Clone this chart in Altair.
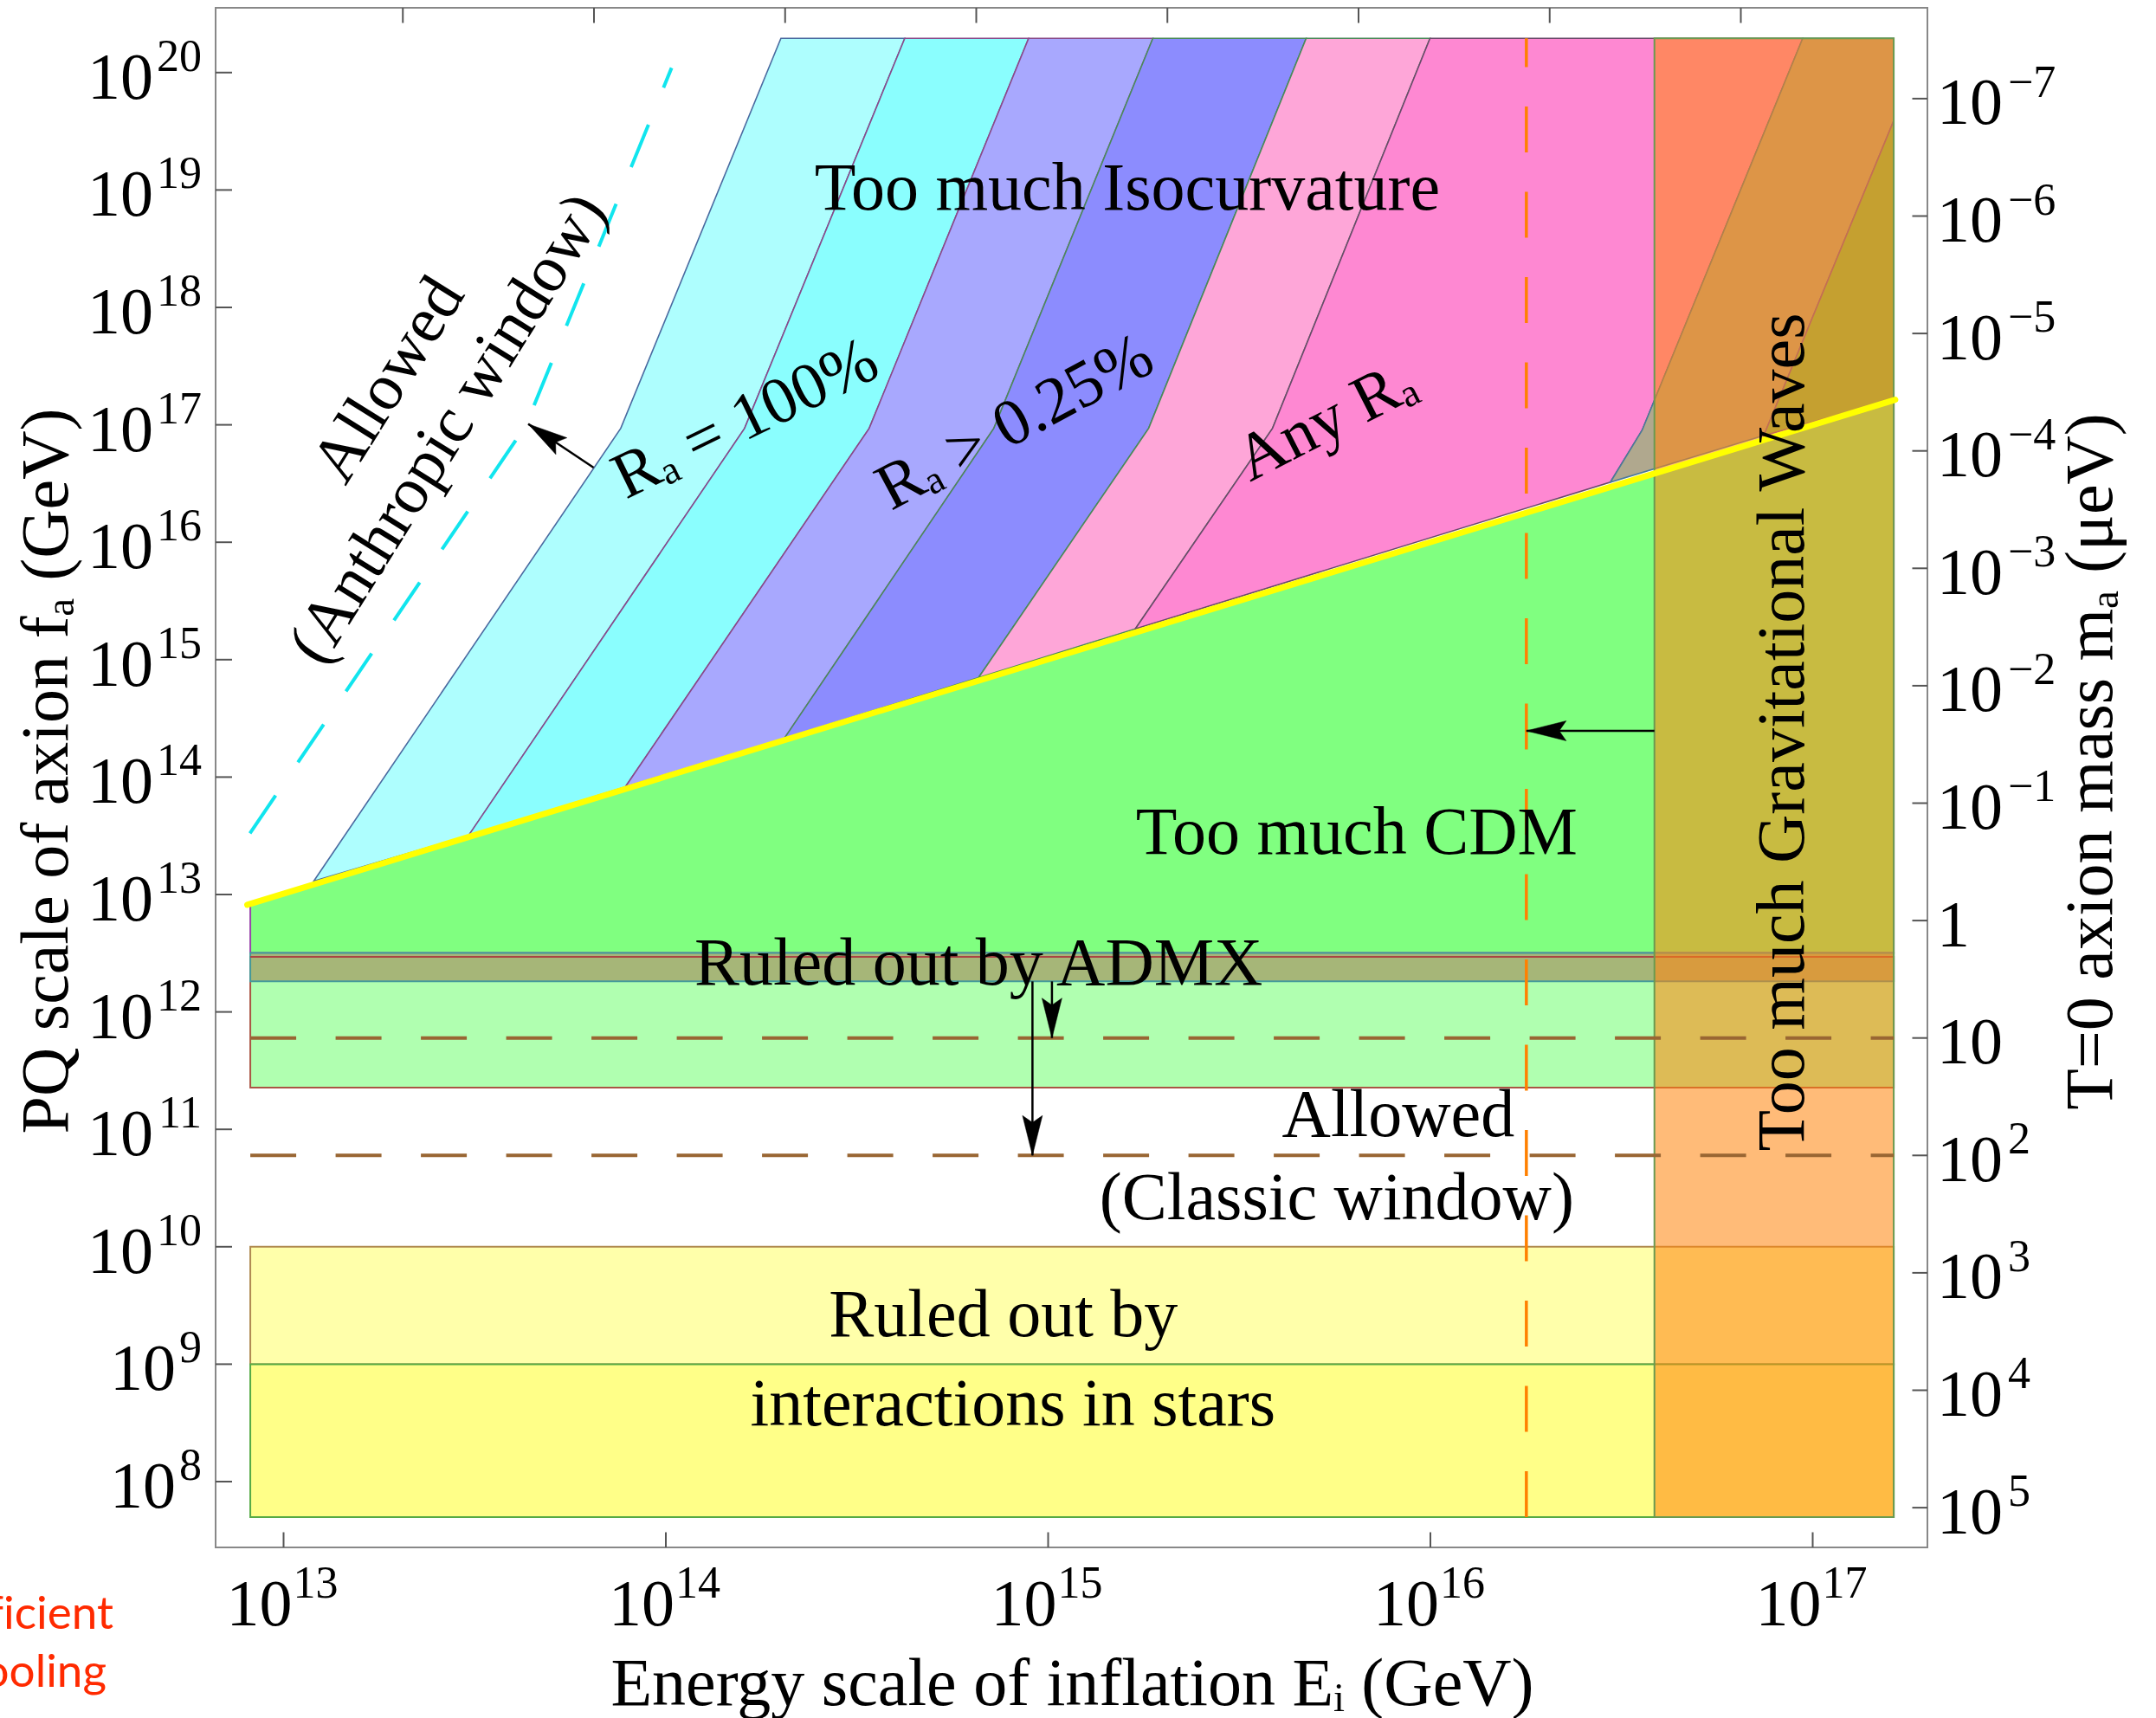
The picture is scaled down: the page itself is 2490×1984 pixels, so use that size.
import altair as alt
import pandas as pd

# ---------------- axis ranges (log10 units) ----------------
X_DOMAIN = [12.8222, 17.3001]      # log10 E_I / GeV
Y_DOMAIN = [7.4395, 20.5516]       # log10 f_a / GeV
W, H = 1977, 1778

# ---------------- ticks (value, base, exponent) ----------------
x_tick_vals = [13, 14, 15, 16, 17]
x_tick_exps = ['13', '14', '15', '16', '17']
top_tick_vals = [13.312, 13.812, 14.312, 14.812, 15.312, 15.812, 16.312, 16.812]
y_tick_vals = [8, 9, 10, 11, 12, 13, 14, 15, 16, 17, 18, 19, 20]
y_tick_exps = ['8', '9', '10', '11', '12', '13', '14', '15', '16', '17', '18', '19', '20']
m_tick_vals = [19.778, 18.778, 17.778, 16.778, 15.778, 14.778, 13.778, 12.778,
               11.778, 10.778, 9.778, 8.778, 7.778]
m_tick_base = ['10', '10', '10', '10', '10', '10', '10', '1', '10', '10', '10', '10', '10']
m_tick_exps = ['−7', '−6', '−5', '−4', '−3', '−2', '−1', '', '', '2', '3', '4', '5']

# ---------------- region extents ----------------
reg_left, reg_right, reg_top, reg_bottom = 12.913, 17.212, 20.292, 7.698

# CDM line (f_a ~ E_I)
cdm_x = [12.905, 17.216]
cdm_y = [12.912, 17.214]

# isocurvature boundaries: bottom (on CDM line), kink, top
bA_x = [13.079, 13.882, 14.301]; bA_y = [13.114, 16.970, 20.292]
bB_x = [13.484, 14.206, 14.625]; bB_y = [13.502, 16.970, 20.292]
bC_x = [13.894, 14.532, 14.949]; bC_y = [13.916, 16.970, 20.292]
bD_x = [14.310, 14.858, 15.274]; bD_y = [14.330, 16.970, 20.292]
bE_x = [14.818, 15.263, 15.675]; bE_y = [14.847, 16.970, 20.292]
bF_x = [15.228, 15.587, 15.999]; bF_y = [15.262, 16.970, 20.292]
bG_x = [16.471, 16.554, 16.974]; bG_y = [16.512, 16.955, 20.292]
bH_x = [16.872, 17.212];         bH_y = [16.909, 19.590]

# anthropic window dashed line
anth_x = [12.912, 13.634, 14.015]
anth_y = [13.520, 16.996, 20.040]

# horizontal bands
admx_light = [11.355, 12.469]
admx_band = [12.260, 12.502]
cdm_bottom = 12.502
stars_light = [9.0, 10.0]
stars_dark = [7.698, 9.0]
gw_x = [16.586, 17.212]
gw_line_x = 16.251
ma_dash_y = [11.778, 10.778]

# arrows: tail, tip
arrow_tail_x = [13.811, 16.586, 15.010, 14.959]
arrow_tail_y = [16.636, 14.394, 12.260, 12.260]
arrow_tip_x = [13.640, 16.251, 15.010, 14.959]
arrow_tip_y = [17.007, 14.394, 11.778, 10.778]
arrow_angle = [303.7, 270, 180, 180]

# annotations
ann_h_text = ["Too much Isocurvature", "Too much CDM", "Ruled out by ADMX", "Allowed",
              "(Classic window)", "Ruled out by", "interactions in stars"]
ann_h_x = [15.207, 15.807, 14.818, 15.916, 15.755, 14.883, 14.908]
ann_h_y = [18.833, 13.349, 12.231, 10.945, 10.235, 9.236, 8.480]

ann_r_text = ["Allowed", "(Anthropic window)", "Rₐ = 100%", "Rₐ > 0.25%", "Any Rₐ"]
ann_r_x = [13.275, 13.431, 14.208, 14.913, 15.728]
ann_r_y = [17.381, 16.968, 17.049, 17.019, 17.034]
ann_r_angle = [302, 302, 334, 332, 333]

side_text = ["Ef\u200cf\u200cicient", "cooling"]

FONT = "'Liberation Serif', 'DejaVu Serif', serif"
BASE_FS, EXP_FS = 76, 52

xs_ = alt.Scale(domain=X_DOMAIN, nice=False, zero=False)
ys_ = alt.Scale(domain=Y_DOMAIN, nice=False, zero=False)

X_AXIS = alt.Axis(
    orient='bottom', labels=False,
    title='Energy scale of inflation Eᵢ (GeV)', titleX=989, titleY=181,
    titleBaseline='alphabetic', titleAlign='center', titleAngle=0)
Y_AXIS = alt.Axis(
    orient='left', labels=False,
    title='PQ scale of axion fₐ (GeV)', titleX=-172, titleY=881, titleAngle=270,
    titleBaseline='alphabetic', titleAlign='center')


def ex(f='x'):
    return alt.X(f'{f}:Q', scale=xs_, axis=X_AXIS)


def ey(f='y'):
    return alt.Y(f'{f}:Q', scale=ys_, axis=Y_AXIS)


def poly(xs, ys, fill, stroke, sw=2, **kw):
    df = pd.DataFrame({'x': xs, 'y': ys, 'o': list(range(len(xs)))})
    return alt.Chart(df).mark_line(interpolate='linear-closed', fill=fill, stroke=stroke,
                                   strokeWidth=sw, **kw).encode(x=ex(), y=ey(), order='o:Q')


def rect(x0, x1, y0, y1, fill, stroke, sw=2, **kw):
    df = pd.DataFrame({'x': [x0], 'x2': [x1], 'y': [y0], 'y2': [y1]})
    return alt.Chart(df).mark_rect(fill=fill, stroke=stroke, strokeWidth=sw, **kw).encode(
        x=ex(), x2='x2:Q', y=ey(), y2='y2:Q')


def txt(**kw):
    return dict(font=FONT, color='black', **kw)


layers = []

# star bounds
layers.append(rect(reg_left, reg_right, stars_light[0], stars_light[1], '#ffffaa', '#b08a50'))
layers.append(rect(reg_left, reg_right, stars_dark[0], stars_dark[1], '#ffff88', '#55aa44'))
# ADMX light region
layers.append(rect(reg_left, reg_right, admx_light[0], admx_light[1], '#b0ffb0', '#aa5544'))
# CDM region
layers.append(poly([reg_left, reg_left, reg_right, reg_right],
                   [cdm_bottom, 12.918, 17.214, cdm_bottom], '#80ff80', '#9944aa'))
# ADMX band
layers.append(rect(reg_left, reg_right, admx_band[0], admx_band[1], '#a6b678', '#449a9a'))
red_df = pd.DataFrame({'x': [reg_left], 'x2': [reg_right], 'y': [admx_light[1]]})
layers.append(alt.Chart(red_df).mark_rule(color='#aa4444', strokeWidth=2).encode(x=ex(), x2='x2:Q', y=ey()))

# isocurvature bands
bands = [
    (bA_x, bA_y, bB_x, bB_y, '#aefefe', '#4a6aa0'),
    (bB_x, bB_y, bC_x, bC_y, '#8afefe', '#8a4a8a'),
    (bC_x, bC_y, bD_x, bD_y, '#a8a8fe', '#8a4a8a'),
    (bD_x, bD_y, bE_x, bE_y, '#8c8cfe', '#4a8a5a'),
    (bE_x, bE_y, bF_x, bF_y, '#fea6d8', '#4a8a5a'),
    (bF_x, bF_y, bG_x, bG_y, '#fe88d2', '#6a4a6a'),
]
for lx, ly, rx, ry, fc, sc in bands:
    layers.append(poly(lx + rx[::-1], ly + ry[::-1], fc, sc, 1.6))
layers.append(poly(bG_x + [reg_right] + bH_x[::-1], bG_y + [reg_top] + bH_y[::-1],
                   '#b0a88e', '#4a7a9a', 1.6))
layers.append(poly(bH_x + [reg_right], bH_y + [17.214], '#78c058', '#7a4aaa', 1.6))

# gravitational-wave band (translucent orange)
layers.append(rect(gw_x[0], gw_x[1], reg_bottom, reg_top, '#ff8712', '#6a9a50', 2,
                   fillOpacity=0.567))

# dashed lines
vdf = pd.DataFrame({'x': [gw_line_x], 'y': [reg_bottom], 'y2': [reg_top]})
layers.append(alt.Chart(vdf).mark_rule(color='#ff8000', strokeWidth=3.5, strokeDash=[53, 45.5]).encode(
    x=ex(), y=ey(), y2='y2:Q'))
hdf = pd.DataFrame({'x': [reg_left] * 2, 'x2': [reg_right] * 2, 'y': ma_dash_y})
layers.append(alt.Chart(hdf).mark_rule(color='#996633', strokeWidth=4, strokeDash=[53, 45.5]).encode(
    x=ex(), x2='x2:Q', y=ey()))
adf = pd.DataFrame({'x': anth_x, 'y': anth_y, 'o': [0, 1, 2]})
layers.append(alt.Chart(adf).mark_line(color='#11e5ee', strokeWidth=4, strokeDash=[53, 46]).encode(
    x=ex(), y=ey(), order='o:Q'))

# CDM (yellow) line
ldf = pd.DataFrame({'x': cdm_x, 'y': cdm_y, 'o': [0, 1]})
layers.append(alt.Chart(ldf).mark_line(color='#ffff00', strokeWidth=7, strokeCap='round').encode(
    x=ex(), y=ey(), order='o:Q'))

# arrows
ardf = pd.DataFrame({'x': arrow_tail_x, 'x2': arrow_tip_x, 'y': arrow_tail_y, 'y2': arrow_tip_y})
layers.append(alt.Chart(ardf).mark_rule(color='black', strokeWidth=2.5).encode(
    x=ex(), x2='x2:Q', y=ey(), y2='y2:Q'))
head_path = "M0,0 L0.5,2 L0,1.65 L-0.5,2 Z"
for i in range(len(arrow_tip_x)):
    hd = pd.DataFrame({'x': [arrow_tip_x[i]], 'y': [arrow_tip_y[i]]})
    layers.append(alt.Chart(hd).mark_point(shape=head_path, filled=True, fill='black', stroke='black',
                                           strokeWidth=0.5, size=2116, opacity=1,
                                           angle=arrow_angle[i]).encode(x=ex(), y=ey()))

# annotations
hdf2 = pd.DataFrame({'x': ann_h_x, 'y': ann_h_y, 't': ann_h_text})
layers.append(alt.Chart(hdf2).mark_text(**txt(fontSize=78, align='center', baseline='alphabetic')).encode(
    x=ex(), y=ey(), text='t:N'))
for i in range(len(ann_r_text)):
    d = pd.DataFrame({'x': [ann_r_x[i]], 'y': [ann_r_y[i]], 't': [ann_r_text[i]]})
    layers.append(alt.Chart(d).mark_text(**txt(fontSize=76, align='center', baseline='middle',
                                               angle=ann_r_angle[i])).encode(
        x=ex(), y=ey(), text='t:N'))
gwdf = pd.DataFrame({'x': [16.977], 'y': [14.383], 't': ["Too much Gravitational Waves"]})
layers.append(alt.Chart(gwdf).mark_text(**txt(fontSize=78, align='center', baseline='alphabetic',
                                              angle=270)).encode(x=ex(), y=ey(), text='t:N'))

# inward ticks
tb = pd.DataFrame({'x': x_tick_vals})
layers.append(alt.Chart(tb).mark_rule(color='#555555', strokeWidth=2).encode(
    x=ex(), y=alt.value(H), y2=alt.value(H - 17.5)))
tt = pd.DataFrame({'x': top_tick_vals})
layers.append(alt.Chart(tt).mark_rule(color='#555555', strokeWidth=2).encode(
    x=ex(), y=alt.value(0), y2=alt.value(17.5)))
tl = pd.DataFrame({'y': y_tick_vals})
layers.append(alt.Chart(tl).mark_rule(color='#555555', strokeWidth=2).encode(
    y=ey(), x=alt.value(0), x2=alt.value(19)))
tr = pd.DataFrame({'y': m_tick_vals})
layers.append(alt.Chart(tr).mark_rule(color='#555555', strokeWidth=2).encode(
    y=ey(), x=alt.value(W - 17.5), x2=alt.value(W)))

# ---- tick labels: "10" plus raised exponent ----
# bottom
bdf = pd.DataFrame({'x': x_tick_vals, 'b': ['10'] * len(x_tick_vals), 'e': x_tick_exps})
layers.append(alt.Chart(bdf).mark_text(**txt(fontSize=BASE_FS, align='right', baseline='alphabetic',
                                             dx=10)).encode(x=ex(), y=alt.value(H + 90), text='b:N'))
layers.append(alt.Chart(bdf).mark_text(**txt(fontSize=EXP_FS, align='left', baseline='alphabetic',
                                             dx=11)).encode(x=ex(), y=alt.value(H + 58), text='e:N'))
# left
for nd in (1, 2):
    sel = [i for i, e in enumerate(y_tick_exps) if len(e) == nd]
    ldf2 = pd.DataFrame({'y': [y_tick_vals[i] for i in sel], 'b': ['10'] * len(sel),
                         'e': [y_tick_exps[i] for i in sel]})
    layers.append(alt.Chart(ldf2).mark_text(**txt(fontSize=BASE_FS, align='right', baseline='alphabetic',
                                                  dy=30)).encode(
        x=alt.value(-20 - 26 * nd), y=ey(), text='b:N'))
    layers.append(alt.Chart(ldf2).mark_text(**txt(fontSize=EXP_FS, align='right', baseline='alphabetic',
                                                  dy=-2)).encode(
        x=alt.value(-16), y=ey(), text='e:N'))
# right
rdf2 = pd.DataFrame({'y': m_tick_vals, 'b': m_tick_base, 'e': m_tick_exps})
layers.append(alt.Chart(rdf2).mark_text(**txt(fontSize=BASE_FS, align='left', baseline='alphabetic',
                                              dy=29.5)).encode(
    x=alt.value(W + 11), y=ey(), text='b:N'))
layers.append(alt.Chart(rdf2).mark_text(**txt(fontSize=EXP_FS, align='left', baseline='alphabetic',
                                              dy=-2)).encode(
    x=alt.value(W + 93), y=ey(), text='e:N'))

# red side text (cut by the left edge)
side_pos = [(-118, 1871.6), (-126, 1938.7)]
for t, (px, py) in zip(side_text, side_pos):
    sdf = pd.DataFrame({'t': [t]})
    layers.append(alt.Chart(sdf).mark_text(font='Lato', fontSize=53, color='#ff2a00', align='right',
                                           baseline='alphabetic').encode(
        x=alt.value(px), y=alt.value(py), text='t:N'))

main = alt.layer(*layers)

right_df = pd.DataFrame({'y': [12.778]})
right_layer = alt.Chart(right_df).mark_point(opacity=0).encode(
    y=alt.Y('y:Q', scale=alt.Scale(domain=Y_DOMAIN, nice=False, zero=False), axis=alt.Axis(
        orient='right', labels=False,
        title='T=0 axion mass mₐ (μeV)', titleX=212, titleY=870, titleAngle=270,
        titleBaseline='alphabetic', titleAlign='center')))

chart = alt.layer(main, right_layer).resolve_scale(y='independent').properties(
    width=W, height=H, autosize='none',
    padding={'left': 249, 'top': 9, 'right': 264, 'bottom': 197},
    background='white'
).configure_view(stroke='#888888', strokeWidth=2).configure_axis(
    domain=False, ticks=False, grid=False, labelFont=FONT, titleFont=FONT,
    labelColor='black', titleColor='black', titleFontSize=78, titleFontWeight='normal'
)

chart.save("out.html", embed_options={"renderer": "svg", "actions": False})
